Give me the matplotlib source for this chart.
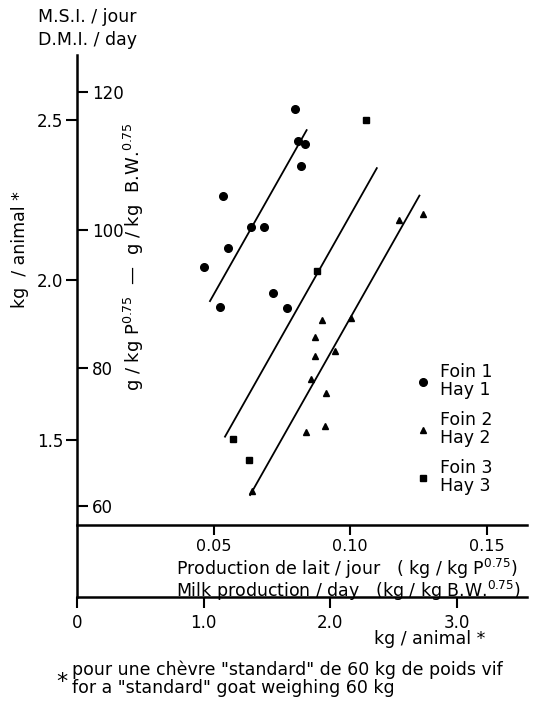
import matplotlib
matplotlib.use("Agg")
import matplotlib.pyplot as plt
from matplotlib.lines import Line2D

plt.rcParams['font.family'] = 'DejaVu Sans'
plt.rcParams['mathtext.default'] = 'regular'

# milk production (kg / kg P^0.75) and dry matter intake (g / kg P^0.75)
hay1_milk = [0.0799, 0.0811, 0.0836, 0.0819, 0.0536, 0.0636, 0.0685,
             0.0552, 0.0465, 0.0717, 0.0524, 0.0769]
hay1_dmi = [117.5, 112.9, 112.5, 109.3, 104.9, 100.4, 100.4,
            97.4, 94.7, 90.8, 88.8, 88.7]

hay2_milk = [0.1178, 0.1268, 0.0896, 0.1005, 0.0872, 0.0872, 0.0946,
             0.0856, 0.0912, 0.0838, 0.0910, 0.0641]
hay2_dmi = [101.5, 102.3, 87.0, 87.2, 84.5, 81.8, 82.5,
            78.4, 76.4, 70.7, 71.6, 62.2]

hay3_milk = [0.106, 0.088, 0.057, 0.0631]
hay3_dmi = [116.0, 94.0, 69.7, 66.7]

# regression lines: intercept, slope, x range
fit_intercept = [55.6, 32.1, 17.2]
fit_slope = [700, 700, 700]
fit_x0 = [0.0487, 0.0542, 0.0634]
fit_x1 = [0.0841, 0.1098, 0.1254]

labels = ['Foin 1\nHay 1', 'Foin 2\nHay 2', 'Foin 3\nHay 3']

K = 60 ** 0.75  # metabolic weight of a 60 kg goat

W, H = 547, 703
fig = plt.figure(figsize=(W / 100, H / 100), dpi=100)
ax = fig.add_axes([77 / W, (H - 597) / H, 450 / W, 542 / H])
ax.set_xlim(0, 0.1648)
ax.set_ylim(46.8, 125.36)

fs = 12.5
tfs = 11.5
ax.plot(hay1_milk, hay1_dmi, 'o', color='black', ms=5.5, label=labels[0])
ax.plot(hay2_milk, hay2_dmi, '^', color='black', ms=4.5, label=labels[1])
ax.plot(hay3_milk, hay3_dmi, 's', color='black', ms=4.5, label=labels[2])
for a, b, x0, x1 in zip(fit_intercept, fit_slope, fit_x0, fit_x1):
    ax.plot([x0, x1], [a + b * x0, a + b * x1], color='black', lw=1.3)

for s in ['top', 'left']:
    ax.spines[s].set_visible(False)
ax.spines['right'].set_position(('axes', 0))
ax.spines['right'].set_visible(False)
ax.spines['bottom'].set_position(('axes', 72 / 542))
ax.spines['bottom'].set_linewidth(1.8)

# g / kg P0.75 scale, ticks on the inner side of the axis
ax.yaxis.set_ticks_position('right')
ax.set_yticks([60, 80, 100, 120])
ax.tick_params(axis='y', direction='out', length=8, width=1.5,
               pad=3, labelsize=tfs + 0.5)
ax.yaxis.set_label_position('right')
ax.set_ylabel('g / kg P$^{0.75}$  —  g / kg  B.W.$^{0.75}$', fontsize=fs + 0.5)
ax.yaxis.set_label_coords(134 / W, 1 - 257 / H, transform=fig.transFigure)
ax.yaxis.label.set_va('center')

# upper x axis: kg / kg P0.75
ax.set_xticks([0.05, 0.10, 0.15])
ax.set_xticklabels(['0.05', '0.10', '0.15'])
ax.tick_params(axis='x', direction='out', length=7, width=1.5,
               pad=3, labelsize=tfs)
ax.set_xlabel('Production de lait / jour   ( kg / kg P$^{0.75}$)\n'
              'Milk production / day   (kg / kg B.W.$^{0.75}$)',
              fontsize=fs, ha='left', multialignment='left', linespacing=0.85)
ax.xaxis.set_label_coords(176 / W, 1 - 580 / H, transform=fig.transFigure)
ax.xaxis.label.set_va('center')

# lower x axis: kg / animal
secx = ax.secondary_xaxis('bottom', functions=(lambda x: x * K, lambda x: x / K))
secx.set_xticks([0, 1, 2, 3])
secx.set_xticklabels(['0', '1.0', '2.0', '3.0'])
secx.tick_params(direction='out', length=8, width=1.5, pad=4, labelsize=tfs + 0.5)
secx.spines['bottom'].set_linewidth(1.8)
secx.set_xlabel('kg / animal *', fontsize=fs)
secx.xaxis.set_label_coords(430 / W, 1 - 639 / H, transform=fig.transFigure)
secx.xaxis.label.set_va('center')

# left y axis: kg / animal
secy = ax.secondary_yaxis('left', functions=(lambda g: g * K / 1000,
                                             lambda kg: kg * 1000 / K))
secy.set_yticks([1.5, 2.0, 2.5])
secy.set_yticklabels(['1.5', '2.0', '2.5'])
secy.tick_params(direction='out', length=8, width=1.5, pad=2, labelsize=tfs + 0.5)
secy.spines['left'].set_linewidth(1.8)
secy.set_ylabel('kg  / animal *', fontsize=fs)
secy.yaxis.set_label_coords(20 / W, 1 - 250 / H, transform=fig.transFigure)
secy.yaxis.label.set_va('center')

handles = [Line2D([], [], ls='', marker=m, color='black', ms=ms)
           for m, ms in zip(['o', '^', 's'], [5.5, 4.5, 4.5])]
leg = ax.legend(handles, labels, loc='upper left',
                bbox_to_anchor=(416 / W, 1 - 363 / H),
                bbox_transform=fig.transFigure,
                frameon=False, fontsize=fs, handlelength=0.8,
                handletextpad=0.6, labelspacing=0.7, borderpad=0,
                borderaxespad=0)
for t in leg.get_texts():
    t.set_linespacing(1.0)

fig.text(38 / W, 1 - 17 / H, 'M.S.I. / jour', fontsize=fs, va='center')
fig.text(38 / W, 1 - 40 / H, 'D.M.I. / day', fontsize=fs, va='center')

fig.text(62 / W, 1 - 682 / H, '*', fontsize=16, ha='center', va='center')
fig.text(72 / W, 1 - 670 / H,
         'pour une chèvre "standard" de 60 kg de poids vif', fontsize=fs,
         va='center')
fig.text(72 / W, 1 - 688 / H,
         'for a "standard" goat weighing 60 kg', fontsize=fs, va='center')

fig.savefig('out.png', dpi=100)
